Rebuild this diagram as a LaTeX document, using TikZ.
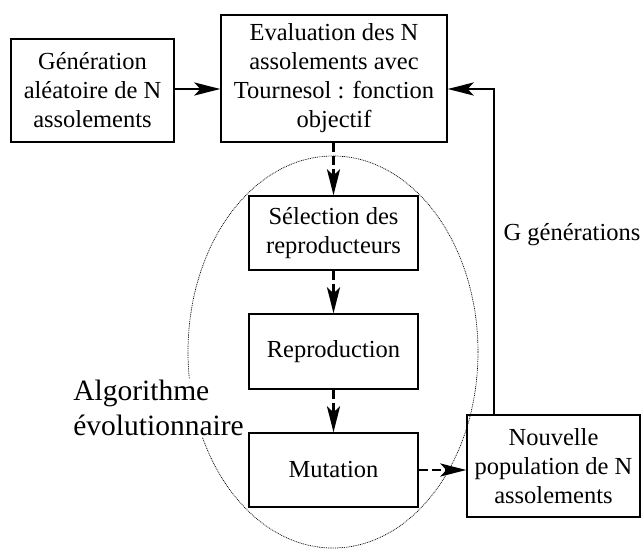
\documentclass[tikz,border=0pt]{standalone}
\usepackage{fontspec}
\setmainfont{Liberation Serif}
\usetikzlibrary{arrows.meta}

\tikzset{every picture/.style={line width=0.75pt}}
\tikzset{
  boite/.style={draw, line width=1.3pt, align=center, inner sep=0pt,
    font=\fontsize{24.5}{29}\selectfont},
  fleche/.style={line width=2.6pt, -{Stealth[length=26pt,width=13pt,inset=6pt]}},
  pointille/.style={fleche, dash pattern=on 9pt off 4pt},
}

\begin{document}
\begin{tikzpicture}[x=1pt,y=1pt,yscale=-1]
\useasboundingbox (0,0) rectangle (642,549);
%Shape: Ellipse
\draw [line width=0.7pt, dash pattern=on 0.9pt off 0.9pt] (333,352) ellipse [x radius=145, y radius=196];
%Label
\node [fill=white, align=left, inner sep=1pt, font=\fontsize{29.5}{35}\selectfont] (algo) at (158.5,408) {Algorithme\\évolutionnaire};
%Boxes
\node [boite, minimum width=163, minimum height=103] (gen) at (92.5,90.5) {Génération\\aléatoire de N\\assolements};
\node [boite, minimum width=226, minimum height=127] (eval) at (334,78.5) {Evaluation des N\\assolements avec\\Tournesol : fonction\\objectif};
\node [boite, minimum width=169, minimum height=74] (select) at (333.5,233) {Sélection des\\reproducteurs};
\node [boite, minimum width=169, minimum height=75] (repro) at (333.5,351.5) {Reproduction};
\node [boite, minimum width=169, minimum height=74] (mut) at (333.5,470) {Mutation};
\node [boite, minimum width=173, minimum height=102] (nouv) at (553.5,466) {Nouvelle\\population de N\\assolements};
\node [font=\fontsize{24.5}{29}\selectfont] (gener) at (572,235) {G générations};
\coordinate (retour) at (494,89);
%Arrows
\draw [fleche] (gen.east |- retour) -- (eval.west |- retour);
\draw [pointille] (eval.south -| select) -- (select.north);
\draw [pointille] (select.south) -- (repro.north);
\draw [pointille] (repro.south) -- (mut.north);
\draw [pointille] (mut.east) -- (mut.east -| nouv.west);
\draw [fleche] (nouv.north -| retour) -- (retour) -- (eval.east |- retour);
\end{tikzpicture}
\end{document}
